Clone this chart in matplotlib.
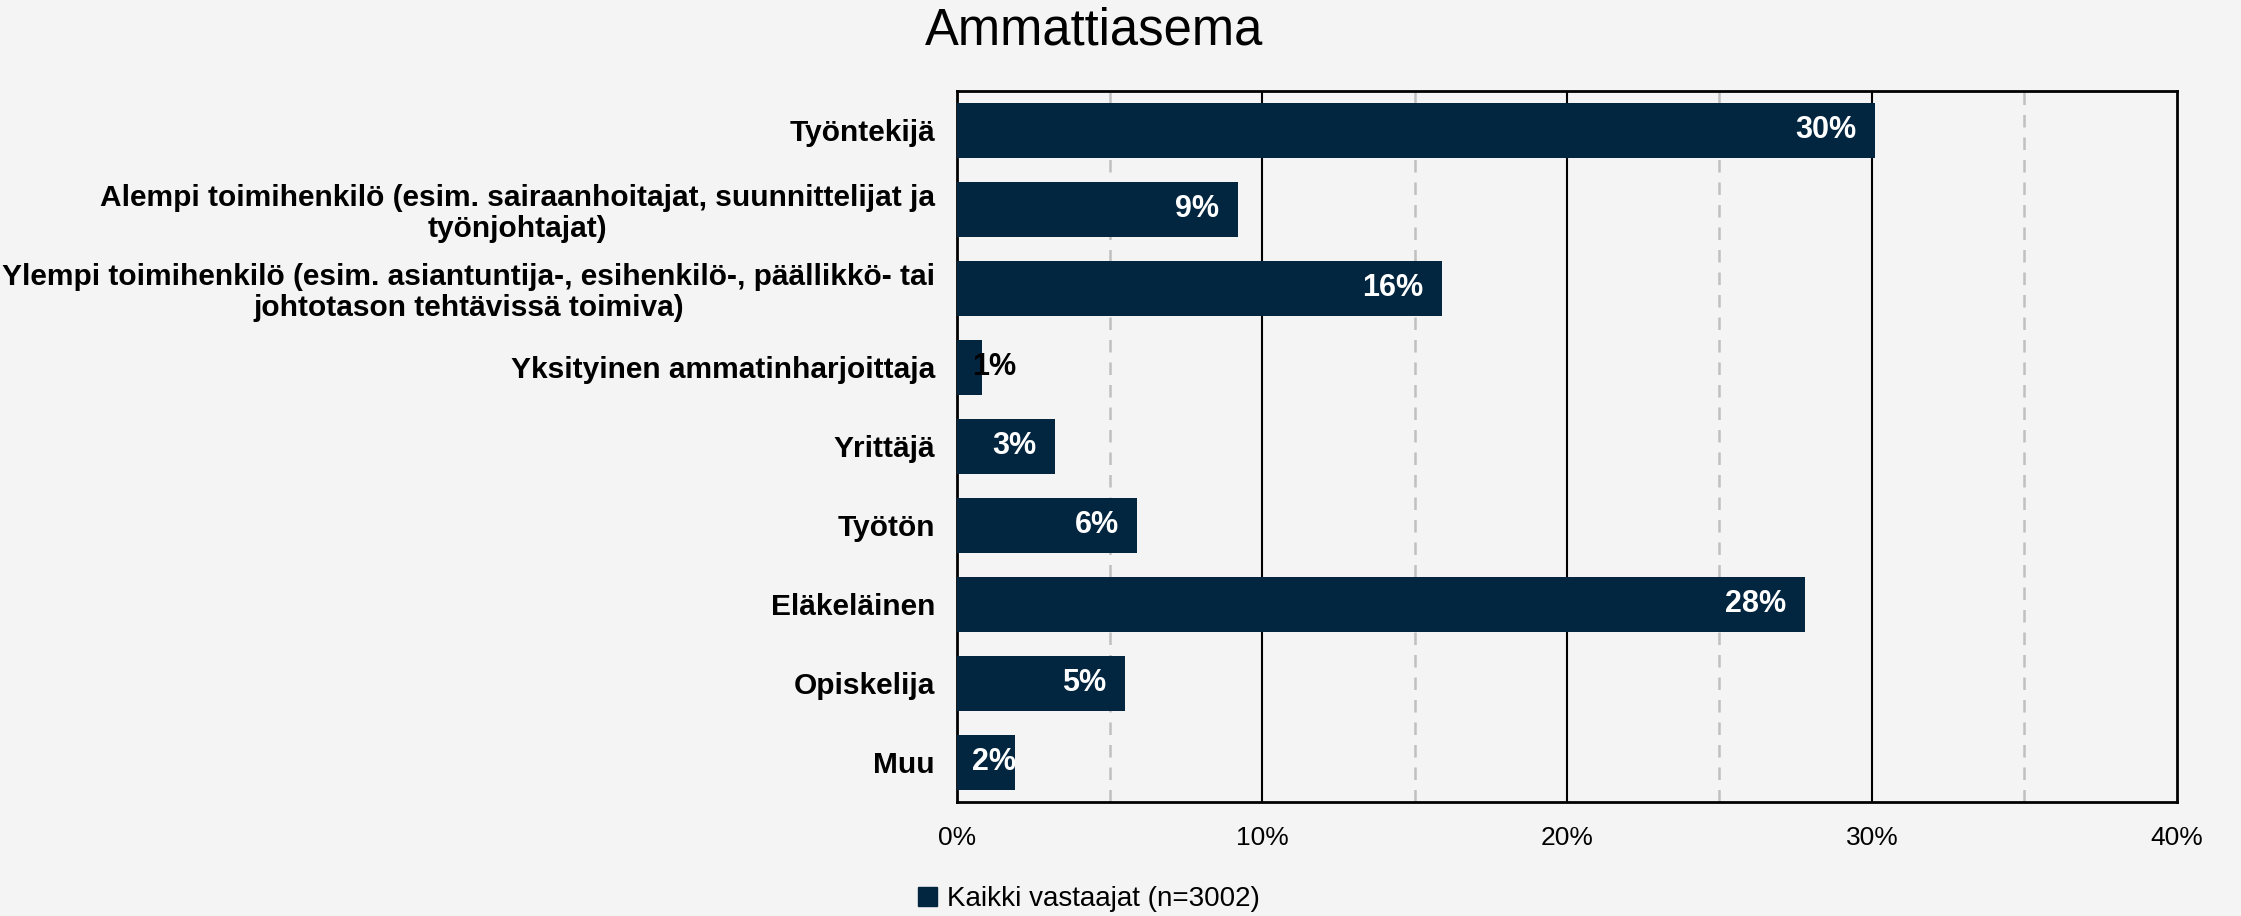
import matplotlib.pyplot as plt
from matplotlib.patches import Patch

plt.rcParams['font.family'] = ['Liberation Sans', 'DejaVu Sans']

# data
categories = [
    'Työntekijä',
    'Alempi toimihenkilö (esim. sairaanhoitajat, suunnittelijat ja\ntyönjohtajat)',
    'Ylempi toimihenkilö (esim. asiantuntija-, esihenkilö-, päällikkö- tai\njohtotason tehtävissä toimiva)',
    'Yksityinen ammatinharjoittaja',
    'Yrittäjä',
    'Työtön',
    'Eläkeläinen',
    'Opiskelija',
    'Muu',
]
values = [30.1, 9.2, 15.9, 0.8, 3.2, 5.9, 27.8, 5.5, 1.9]
labels = ['30%', '9%', '16%', '1%', '3%', '6%', '28%', '5%', '2%']
xticks = [0, 10, 20, 30, 40]
xticklabels = ['0%', '10%', '20%', '30%', '40%']
series_name = 'Kaikki vastaajat (n=3002)'
title = 'Ammattiasema'

bg = '#f4f4f4'
bar_color = '#022540'

fig = plt.figure(figsize=(22.41, 9.16), dpi=100, facecolor=bg)
ax = fig.add_axes([0.4271, 0.1245, 0.5443, 0.7762], facecolor=bg)

ypos = list(range(len(categories)))
ax.barh(ypos, values, height=0.69, color=bar_color, zorder=3)

ax.set_xlim(0, 40)
ax.set_ylim(len(categories) - 0.5, -0.5)

# grid: solid at major, dashed at minor
for x in [10, 20, 30]:
    ax.axvline(x, color='black', lw=1.5, zorder=1)
for x in [5, 15, 25, 35]:
    ax.axvline(x, color='#c0c0c0', lw=1.8, ls=(0, (5, 4)), zorder=1)

for s in ax.spines.values():
    s.set_color('black')
    s.set_linewidth(2)

ax.set_xticks(xticks)
ax.set_xticklabels(xticklabels, fontsize=19)
ax.set_yticks(ypos)
ax.set_yticklabels(categories, fontsize=21.5, fontweight='bold',
                   multialignment='center', linespacing=1.1)
ax.tick_params(axis='both', length=0)
ax.tick_params(axis='y', pad=16)
ax.tick_params(axis='x', pad=17)

for y, v, lab in zip(ypos, values, labels):
    if v < 2.5:
        # too short for the label: Excel pushes it to the axis start
        ax.text(0.5, y, lab, ha='left', va='center', fontsize=22,
                fontweight='bold', color='white' if v > 1.5 else 'black', zorder=4)
    else:
        ax.text(v - 0.6, y, lab, ha='right', va='center', fontsize=22,
                fontweight='bold', color='white', zorder=4)

fig.text(1094 / 2241, 1 - 31 / 916, title, ha='center', va='center', fontsize=36.5)

handle = Patch(facecolor=bar_color, edgecolor=bar_color)
fig.legend([handle], [series_name], loc='center left',
           bbox_to_anchor=(918 / 2241, 1 - 899 / 916), frameon=False,
           fontsize=20, handlelength=0.7, handleheight=0.7,
           handletextpad=0.35, borderaxespad=0, borderpad=0)

fig.savefig('out.png', dpi=100, facecolor=bg)
